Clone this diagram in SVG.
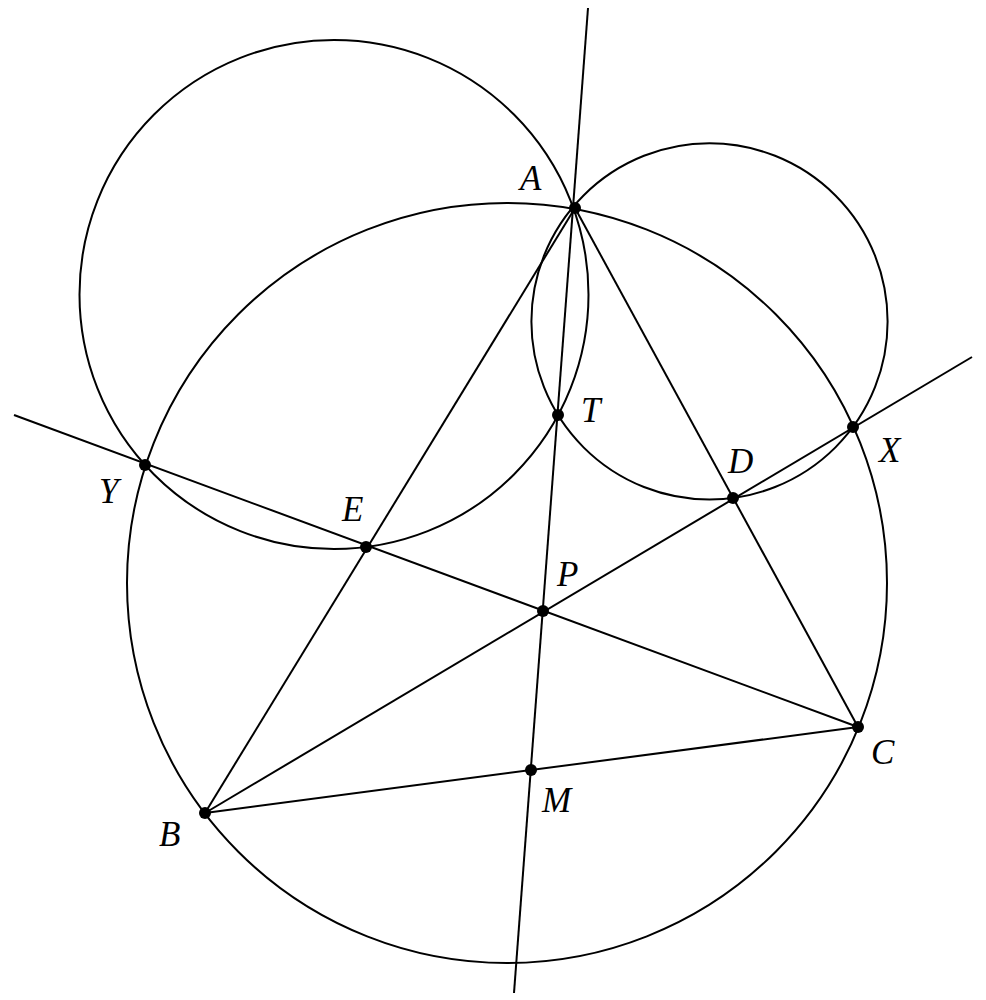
<svg xmlns="http://www.w3.org/2000/svg" width="986" height="1000" viewBox="0 0 986 1000">
<style>
.c{fill:none;stroke:#000;stroke-width:2}
.l{stroke:#000;stroke-width:2;fill:none}
.p{fill:#000}
text{font-family:"Liberation Serif","DejaVu Serif",serif;font-style:italic;font-size:35px;fill:#000}
</style>
<rect width="986" height="1000" fill="#fff"/>
<g id="circles">
<circle class="c" cx="507" cy="583" r="380"/>
<circle class="c" cx="334" cy="294.5" r="254.5"/>
<circle class="c" cx="709.5" cy="321.4" r="178.1"/>
</g>
<g id="connectors">
<line class="l" x1="588" y1="8" x2="514" y2="993"/>
<line class="l" x1="14" y1="415" x2="858" y2="727"/>
<line class="l" x1="205" y1="813" x2="972" y2="357"/>
<line class="l" x1="575" y1="208" x2="205" y2="813"/>
<line class="l" x1="575" y1="208" x2="858" y2="727"/>
<line class="l" x1="205" y1="813" x2="858" y2="727"/>
</g>
<g id="A"><circle class="p" cx="575" cy="208" r="6"/><text x="520" y="190">A</text></g>
<g id="B"><circle class="p" cx="205" cy="813" r="6"/><text x="159" y="846">B</text></g>
<g id="C"><circle class="p" cx="858" cy="727" r="6"/><text x="871" y="764">C</text></g>
<g id="D"><circle class="p" cx="733" cy="498" r="6"/><text x="728" y="473">D</text></g>
<g id="E"><circle class="p" cx="366" cy="547" r="6"/><text x="342" y="521">E</text></g>
<g id="P"><circle class="p" cx="543" cy="611" r="6"/><text x="557" y="586">P</text></g>
<g id="M"><circle class="p" cx="531" cy="770" r="6"/><text x="542" y="812">M</text></g>
<g id="T"><circle class="p" cx="558" cy="415" r="6"/><text x="581" y="422">T</text></g>
<g id="X"><circle class="p" cx="853" cy="427" r="6"/><text x="879" y="462">X</text></g>
<g id="Y"><circle class="p" cx="145" cy="465" r="6"/><text x="99" y="503">Y</text></g>
</svg>
